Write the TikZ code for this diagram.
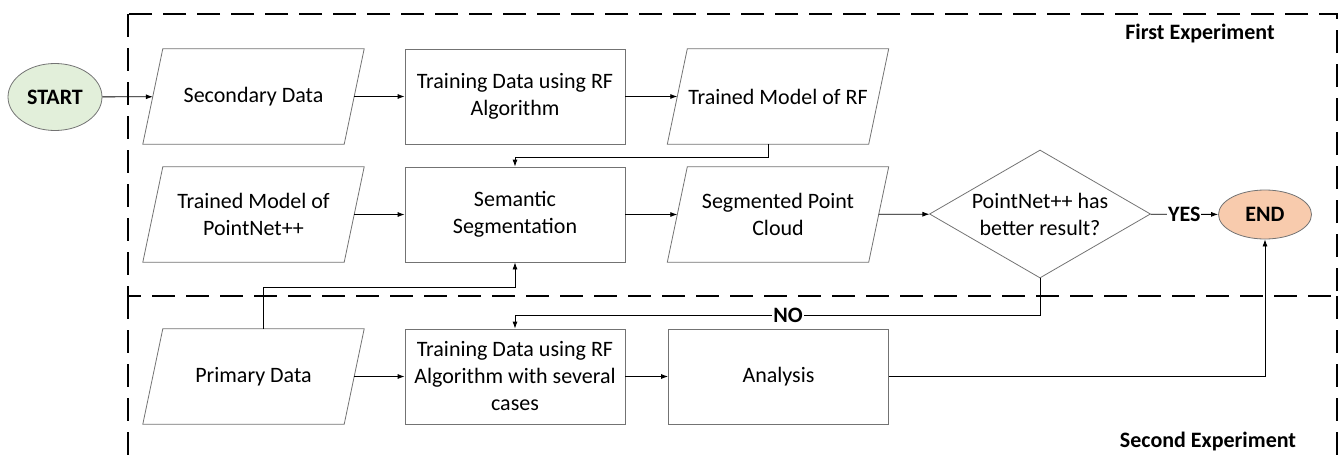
\documentclass[tikz,border=0pt]{standalone}
\usepackage{fontspec}
\setmainfont{Carlito}
\usetikzlibrary{shapes.geometric,arrows.meta}

\definecolor{startgreen}{RGB}{226,239,218}
\definecolor{endorange}{RGB}{248,203,173}
\newcommand\flowfont{\fontsize{22}{27}\selectfont}

\tikzset{
  databox/.style={rectangle, draw=none, minimum width=201pt, minimum height=95pt,
    align=center, inner sep=0pt,
    append after command={\pgfextra{\draw[draw=black!55, line width=0.8pt]
      ([xshift=10pt]\tikzlastnode.north west) -- ([xshift=10pt]\tikzlastnode.north east)
      -- ([xshift=-10pt]\tikzlastnode.south east) -- ([xshift=-10pt]\tikzlastnode.south west)
      -- cycle;}}},
  procbox/.style={rectangle, draw=black!55, line width=0.8pt,
    minimum width=220pt, minimum height=95pt, align=center, inner sep=0pt},
  decision/.style={diamond, draw=black!55, line width=0.8pt,
    minimum width=221pt, minimum height=128pt, inner sep=0pt},
  terminal/.style={ellipse, draw=black!55, line width=0.8pt, inner sep=2pt,
    font=\flowfont\bfseries},
  flow/.style={draw=black, line width=0.8pt, -{Latex[length=7pt,width=5pt]}},
  frame/.style={draw=black, line width=1.6pt, dash pattern=on 23pt off 11pt},
  flag/.style={font=\flowfont\bfseries, fill=white, inner sep=1pt}
}

\begin{document}
\begin{tikzpicture}[x=1pt,y=-1pt,font=\flowfont]
  \useasboundingbox (0,0) rectangle (1341,455);
  \draw[frame] (128,14) rectangle (1337,296);
  \draw[frame] (128,296) -- (128,455);
  \draw[frame] (1337,296) -- (1337,455);

  \node[terminal, fill=startgreen, minimum width=94pt, minimum height=67pt] (start) at (55,97) {START};
  \node[databox] (secdata) at (253.5,96.5) {Secondary Data};
  \node[procbox] (trainrf) at (515,96.5) {Training Data using RF\\Algorithm};
  \node[databox] (rfmodel) at (778,96.5) {Trained Model of RF};

  \node[databox] (pnmodel) at (253.5,214.5) {Trained Model of\\PointNet++};
  \node[procbox] (semseg) at (515,214.5) {Semantic\\Segmentation};
  \node[databox] (segcloud) at (778,214.5) {Segmented Point\\Cloud};
  \node[decision, label={[align=center]center:PointNet++ has\\better result?}] (decide) at (1040,214) {};
  \node[terminal, fill=endorange, minimum width=93pt, minimum height=49pt] (finish) at (1265,214.5) {END};

  \node[databox] (primary) at (253.5,376.5) {Primary Data};
  \node[procbox] (trainsev) at (515,376.5) {Training Data using RF\\Algorithm with several\\cases};
  \node[procbox] (analysis) at (778.5,376.5) {Analysis};

  \node[font=\flowfont\bfseries] (exp1) at (1200,34) {First Experiment};
  \node[font=\flowfont\bfseries] (exp2) at (1208,442) {Second Experiment};

  \draw[flow] (start) -- (secdata);
  \draw[flow] (secdata) -- (trainrf);
  \draw[flow] (trainrf) -- (rfmodel);
  \draw[flow] ([xshift=-10pt]rfmodel.south) -- ++(0,13) -| (semseg.north);
  \draw[flow] (pnmodel) -- (semseg);
  \draw[flow] (semseg) -- (segcloud);
  \draw[flow] (segcloud) -- (decide);
  \draw[flow] (decide) -- node[flag] {YES} (finish);
  \draw[flow] (decide.south) -- ++(0,37) -| node[flag, pos=0.24] {NO} (trainsev.north);
  \draw[flow] ([xshift=10pt]primary.north) -- ++(0,-41) -| (semseg.south);
  \draw[flow] (primary) -- (trainsev);
  \draw[flow] (trainsev) -- (analysis);
  \draw[flow] (analysis) -| (finish);
\end{tikzpicture}
\end{document}
